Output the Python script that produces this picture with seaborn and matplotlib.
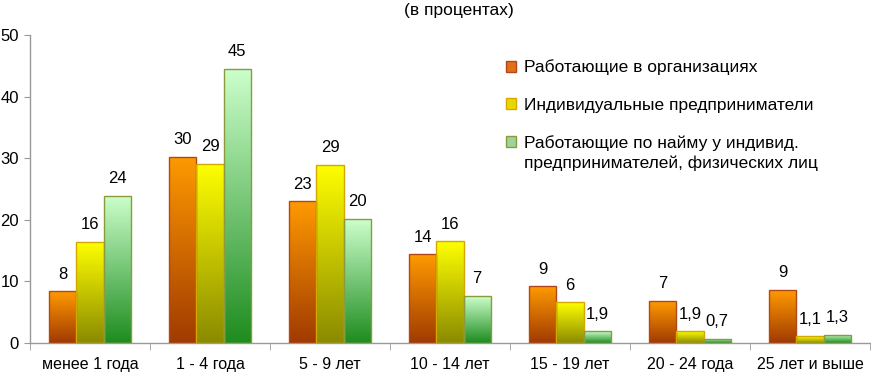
import numpy as np
import pandas as pd
import matplotlib
matplotlib.use('Agg')
import matplotlib.pyplot as plt
from matplotlib.colors import LinearSegmentedColormap
from matplotlib.patches import Patch
import seaborn as sns

# Данные (в процентах)
categories = ['менее 1 года', '1 - 4 года', '5 - 9 лет', '10 - 14 лет',
              '15 - 19 лет', '20 - 24 года', '25 лет и выше']
series_names = ['Работающие в организациях',
                'Индивидуальные предприниматели',
                'Работающие по найму у индивид.\nпредпринимателей, физических лиц']

org_values = [8.4, 30.2, 23.0, 14.4, 9.2, 6.8, 8.6]
ip_values = [16.4, 29.1, 28.9, 16.5, 6.6, 1.9, 1.1]
hired_values = [23.9, 44.5, 20.1, 7.6, 1.9, 0.7, 1.3]

org_labels = ['8', '30', '23', '14', '9', '7', '9']
ip_labels = ['16', '29', '29', '16', '6', '1,9', '1,1']
hired_labels = ['24', '45', '20', '7', '1,9', '0,7', '1,3']

# градиенты: (верх, низ), цвет рамки
top_colors = ['#FF9A00', '#FFFF00', '#CCFFCC']
bottom_colors = ['#A03A00', '#8A8A00', '#1E8C1E']
edge_colors = ['#B0481A', '#D4A800', '#8C9A3C']

df = pd.DataFrame({
    'стаж': categories * 3,
    'группа': [series_names[0]] * 7 + [series_names[1]] * 7 + [series_names[2]] * 7,
    'значение': org_values + ip_values + hired_values,
})
all_labels = [org_labels, ip_labels, hired_labels]

plt.rcParams['font.family'] = ['Liberation Sans', 'DejaVu Sans']

fig = plt.figure(figsize=(8.71, 3.74), dpi=100)
ax = fig.add_axes([30 / 871, 31 / 374, 840 / 871, 308 / 374])

sns.barplot(data=df, x='стаж', y='значение', hue='группа',
            palette=top_colors, width=0.68, gap=0, ax=ax, legend=False,
            saturation=1)

grad = np.linspace(1, 0, 256).reshape(-1, 1)
for i, cont in enumerate(ax.containers):
    cmap = LinearSegmentedColormap.from_list(f'g{i}', [bottom_colors[i], top_colors[i]])
    for bar, lab in zip(cont, all_labels[i]):
        x0, y0 = bar.get_x(), bar.get_y()
        w, h = bar.get_width(), bar.get_height()
        bar.set_facecolor('none')
        bar.set_edgecolor(edge_colors[i])
        bar.set_linewidth(1.0)
        bar.set_zorder(3)
        im = ax.imshow(grad, cmap=cmap, vmin=0, vmax=1, aspect='auto',
                       extent=[x0, x0 + w, y0, y0 + h], zorder=2,
                       interpolation='bilinear')
        im.set_clip_path(bar)
        ax.annotate(lab, (x0 + w / 2, y0 + h), xytext=(0, 7),
                    textcoords='offset points', ha='center', va='bottom',
                    fontsize=12, color='black')

ax.set_xlim(-0.5, 6.5)
ax.set_ylim(0, 50)
ax.set_yticks(range(0, 51, 10))
ax.set_xlabel('')
ax.set_ylabel('')

# делители категорий
ax.set_xticks(np.arange(-0.5, 7, 1), minor=True)
ax.tick_params(axis='x', which='major', length=0, pad=10, labelsize=11.5)
ax.tick_params(axis='x', which='minor', length=5, color='#999999', direction='out')
ax.tick_params(axis='y', length=4, color='#999999', labelsize=12, pad=4)

for s in ['top', 'right']:
    ax.spines[s].set_visible(False)
for s in ['left', 'bottom']:
    ax.spines[s].set_color('#999999')
    ax.spines[s].set_linewidth(1.0)

handles = [Patch(facecolor=c, edgecolor=e) for c, e in zip(['#E0701A', '#E8D800', '#9CD49C'], edge_colors)]
leg = fig.legend(handles, series_names, loc='upper left',
                 bbox_to_anchor=(490 / 871, 1 - 44 / 374), frameon=False,
                 fontsize=12.5, handlelength=0.6, handleheight=0.6,
                 handletextpad=0.45, labelspacing=1.3)
leg.get_texts()[2].set_linespacing(1.35)
# маркер третьей записи — на уровне первой строки
h3 = leg.legend_handles[2]
h3.set_y(h3.get_y() + 8.5)

fig.text(459 / 871, 1 - 15 / 374, '(в процентах)', ha='center', va='baseline',
         fontsize=12.5)

fig.savefig('out.png', dpi=100)
